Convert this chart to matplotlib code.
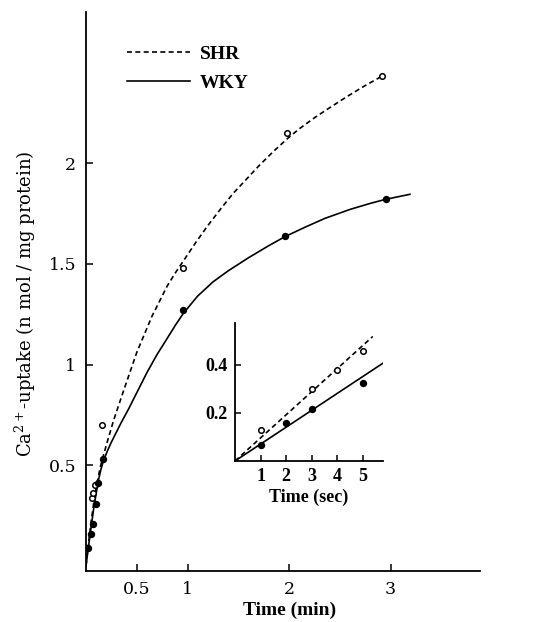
import numpy as np
import matplotlib
matplotlib.use("Agg")
import matplotlib.pyplot as plt

plt.rcParams['mathtext.fontset'] = 'dejavuserif'

# main panel: time (min) vs Ca2+ uptake
shr_t = [0.06, 0.066, 0.089, 0.155, 0.96, 1.98, 2.91]
shr_y = [0.335, 0.36, 0.40, 0.70, 1.48, 2.15, 2.43]
wky_t = [0.023, 0.05, 0.066, 0.095, 0.12, 0.165, 0.96, 1.96, 2.95]
wky_y = [0.09, 0.16, 0.21, 0.31, 0.41, 0.53, 1.27, 1.64, 1.82]

# fitted curves as drawn in the figure
shr_curve_t = [0, 0.02, 0.05, 0.09, 0.14, 0.2, 0.27, 0.37, 0.5, 0.65, 0.8, 0.88, 0.96,
               1.08, 1.2, 1.33, 1.45, 1.58, 1.7, 1.84, 1.98, 2.1, 2.25, 2.4, 2.57,
               2.75, 2.91]
shr_curve_y = [0, 0.09, 0.22, 0.36, 0.49, 0.60, 0.72, 0.87, 1.06, 1.24, 1.39, 1.455, 1.515,
               1.605, 1.69, 1.775, 1.85, 1.92, 1.985, 2.055, 2.12, 2.17, 2.225, 2.275, 2.33,
               2.385, 2.43]
wky_curve_t = [0, 0.02, 0.05, 0.08, 0.12, 0.145, 0.17, 0.21, 0.25, 0.3, 0.35, 0.42,
               0.5, 0.6, 0.7, 0.8, 0.88, 0.96, 1.1, 1.25, 1.4, 1.6, 1.8, 1.96, 2.15,
               2.35, 2.6, 2.8, 2.95, 3.19]
wky_curve_y = [0, 0.08, 0.19, 0.30, 0.42, 0.475, 0.52, 0.57, 0.615, 0.665, 0.715, 0.78,
               0.86, 0.96, 1.05, 1.13, 1.195, 1.255, 1.34, 1.41, 1.465, 1.53, 1.59, 1.635, 1.68,
               1.725, 1.77, 1.80, 1.82, 1.845]

# inset: time (sec)
ins_shr_t = [1, 3, 4, 5]
ins_shr_y = [0.13, 0.30, 0.377, 0.458]
ins_wky_t = [1, 2, 3, 5]
ins_wky_y = [0.066, 0.156, 0.217, 0.325]
ins_shr_line_t = [0, 5.4]
ins_shr_line_y = [0, 0.518]
ins_wky_line_t = [0, 5.9]
ins_wky_line_y = [0, 0.414]

serif = 'DejaVu Serif'
times = 'Liberation Serif'

fig = plt.figure(figsize=(5.37, 6.22), dpi=100)
ax = fig.add_axes([86/537, 1 - 571/622, 394/537, 559/622])

dash = (0, (3, 2))
l1, = ax.plot(shr_curve_t, shr_curve_y, color='black', lw=1.2, linestyle=dash)
l2, = ax.plot(wky_curve_t, wky_curve_y, color='black', lw=1.2)
ax.plot(shr_t, shr_y, 'o', mfc='white', mec='black', ms=4, mew=1.1)
ax.plot(wky_t, wky_y, 'o', color='black', ms=4.3)

ax.set_xlim(0, 3.88)
ax.set_ylim(-0.025, 2.75)
ax.set_xticks([0.5, 1, 2, 3])
ax.set_xticklabels(['0.5', '1', '2', '3'])
ax.set_yticks([0.5, 1, 1.5, 2])
ax.set_yticklabels(['0.5', '1', '1.5', '2'])
for s in ['top', 'right']:
    ax.spines[s].set_visible(False)
for s in ['left', 'bottom']:
    ax.spines[s].set_linewidth(1.3)
ax.tick_params(direction='in', length=5, width=1.1, pad=7, labelsize=12.5)
for lab in ax.get_xticklabels() + ax.get_yticklabels():
    lab.set_fontfamily(serif)

ax.set_xlabel('Time (min)', fontsize=14, fontfamily=times, fontweight='bold')
ax.xaxis.set_label_coords((290 - 86) / 394, -(602 - 571) / 559)
ax.set_ylabel(r'Ca$^{2+}$-uptake (n mol / mg protein)', fontsize=13, fontfamily=serif)
ax.yaxis.set_label_coords((38 - 86) / 394, (571 - 304) / 559)

ax.legend([l1, l2], ['SHR', 'WKY'], loc='upper left',
          bbox_to_anchor=(127/537, 1 - 45/622), bbox_transform=fig.transFigure,
          frameon=False, borderpad=0, borderaxespad=0, handlelength=3.25,
          handletextpad=0.5, labelspacing=0.62,
          prop={'family': times, 'weight': 'bold', 'size': 14})

# inset
ins = fig.add_axes([235/537, 1 - 461/622, 148/537, 138/622])
ins.plot(ins_shr_line_t, ins_shr_line_y, color='black', lw=1.2, linestyle=dash)
ins.plot(ins_wky_line_t, ins_wky_line_y, color='black', lw=1.2)
ins.plot(ins_shr_t, ins_shr_y, 'o', mfc='white', mec='black', ms=4, mew=1.1)
ins.plot(ins_wky_t, ins_wky_y, 'o', color='black', ms=4.3)
ins.set_xlim(0, 5.8)
ins.set_ylim(0, 0.574)
ins.set_xticks([1, 2, 3, 4, 5])
ins.set_yticks([0.2, 0.4])
ins.set_yticklabels(['0.2', '0.4'])
for s in ['top', 'right']:
    ins.spines[s].set_visible(False)
for s in ['left', 'bottom']:
    ins.spines[s].set_linewidth(1.3)
ins.tick_params(direction='in', length=4, width=1.1, pad=5, labelsize=13)
for lab in ins.get_xticklabels() + ins.get_yticklabels():
    lab.set_fontfamily(times)
    lab.set_fontweight('bold')
ins.set_xlabel('Time (sec)', fontsize=13, fontfamily=times, fontweight='bold', labelpad=3)
ins.patch.set_alpha(0)

fig.savefig('out.png', dpi=100)
